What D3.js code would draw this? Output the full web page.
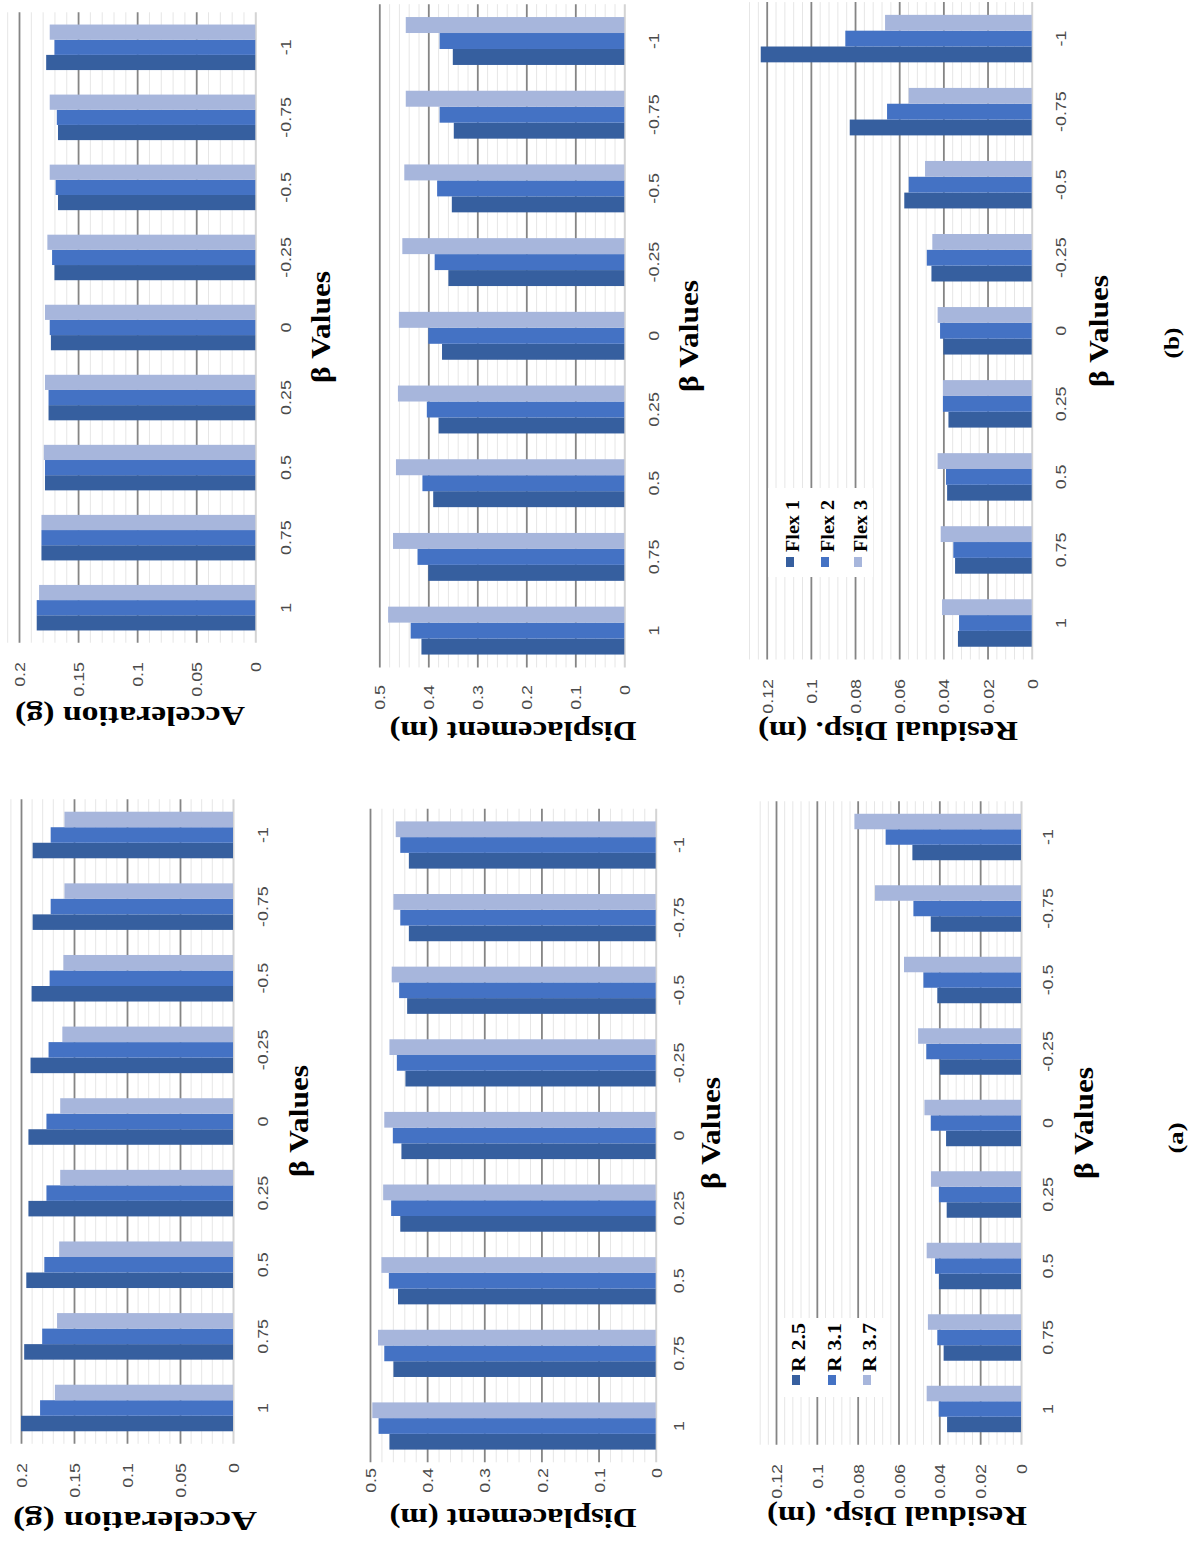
<!DOCTYPE html>
<html><head><meta charset="utf-8">
<script src="https://cdn.jsdelivr.net/npm/d3@7"></script>
<style>body{margin:0;background:#fff} svg{display:block}</style>
</head><body>
<script>
// ---------- DATA ----------
const categories = ["1","0.75","0.5","0.25","0","-0.25","-0.5","-0.75","-1"];
const seriesA = ["R 2.5","R 3.1","R 3.7"];
const seriesB = ["Flex 1","Flex 2","Flex 3"];

const accA_R25 = [0.200,0.197,0.195,0.193,0.193,0.191,0.190,0.189,0.189];
const accA_R31 = [0.182,0.180,0.178,0.176,0.176,0.174,0.173,0.172,0.172];
const accA_R37 = [0.168,0.166,0.164,0.163,0.163,0.161,0.160,0.159,0.159];

const dispA_R25 = [0.466,0.459,0.451,0.447,0.445,0.438,0.435,0.432,0.432];
const dispA_R31 = [0.485,0.475,0.467,0.463,0.460,0.453,0.449,0.447,0.447];
const dispA_R37 = [0.496,0.486,0.480,0.477,0.475,0.466,0.462,0.459,0.455];

const resA_R25 = [0.0362,0.0379,0.0402,0.0364,0.0367,0.0397,0.0410,0.0442,0.0532];
const resA_R31 = [0.0403,0.0410,0.0421,0.0402,0.0442,0.0464,0.0478,0.0527,0.0663];
const resA_R37 = [0.0462,0.0456,0.0462,0.0441,0.0473,0.0504,0.0573,0.0715,0.0816];

const accB_F1 = [0.185,0.181,0.178,0.175,0.173,0.170,0.167,0.167,0.177];
const accB_F2 = [0.185,0.181,0.178,0.175,0.174,0.172,0.169,0.168,0.170];
const accB_F3 = [0.183,0.181,0.179,0.178,0.178,0.176,0.174,0.174,0.174];

const dispB_F1 = [0.414,0.400,0.390,0.379,0.372,0.359,0.352,0.348,0.350];
const dispB_F2 = [0.436,0.422,0.412,0.403,0.400,0.387,0.382,0.377,0.377];
const dispB_F3 = [0.482,0.472,0.466,0.462,0.460,0.453,0.449,0.446,0.446];

const resB_F1 = [0.0334,0.0347,0.0383,0.0377,0.0400,0.0454,0.0577,0.0824,0.1227];
const resB_F2 = [0.0329,0.0355,0.0388,0.0402,0.0415,0.0475,0.0557,0.0655,0.0844];
const resB_F3 = [0.0406,0.0412,0.0426,0.0402,0.0426,0.0450,0.0483,0.0557,0.0664];

const accTicks = [0,0.05,0.1,0.15,0.2];
const dispTicks = [0,0.1,0.2,0.3,0.4,0.5];
const resTicks = [0,0.02,0.04,0.06,0.08,0.1,0.12];

// ---------- LAYOUT ----------
const W = 1192, H = 1554;
const colors = ["#365f9f","#4472c4","#a7b6dc"];
const sansFont = "'Liberation Sans', Arial, sans-serif";
const serifFont = "'Liberation Serif', 'Times New Roman', serif";

const svg = d3.select("body").append("svg").attr("width", W).attr("height", H);
svg.append("rect").attr("width", W).attr("height", H).attr("fill", "#fff");
// whole figure is rotated 90 degrees counter-clockwise
const root = svg.append("g").attr("transform", `translate(0,${H}) rotate(-90)`);
const toX = iy => H - iy;   // picture y -> unrotated x

function fitText(sel, factor, fixed) {
  sel.each(function () {
    const w = fixed || this.getComputedTextLength() * factor;
    d3.select(this).attr("textLength", w).attr("lengthAdjust", "spacingAndGlyphs");
  });
}

function panel(p) {
  const g = root.append("g");
  const step = (p.c1 - p.cm1) / (categories.length - 1);
  const x0 = d3.scaleBand().domain(categories)
    .range([toX(p.c1 + step / 2), toX(p.cm1 - step / 2)])
    .paddingInner(0.35).paddingOuter(0.175);
  const x1 = d3.scaleBand().domain(p.series).range([0, x0.bandwidth()]);
  const unit = (p.zero - p.tickX) / p.ticks[p.ticks.length - 1];
  const y = d3.scaleLinear().domain([0, p.max]).range([p.zero, p.zero - p.max * unit]);
  const [xa, xb] = x0.range();

  const nMinor = Math.round(p.max / p.minor);
  const minors = d3.range(1, nMinor + 1).map(i => +(i * p.minor).toFixed(6))
    .filter(v => !p.ticks.some(t => Math.abs(t - v) < 1e-9));
  g.append("g").attr("transform", `translate(${xa},0)`)
    .call(d3.axisLeft(y).tickValues(minors).tickSize(-(xb - xa)).tickFormat(""))
    .call(s => { s.select(".domain").remove(); s.selectAll("line").attr("stroke", "#e6e6e6").attr("stroke-width", 1); });
  g.append("g").attr("transform", `translate(${xa},0)`)
    .call(d3.axisLeft(y).tickValues(p.ticks.slice(1)).tickSize(-(xb - xa)).tickFormat(""))
    .call(s => { s.select(".domain").remove(); s.selectAll("line").attr("stroke", "#858585").attr("stroke-width", 1.8); });
  g.append("g").attr("transform", `translate(${xa},0)`)
    .call(d3.axisLeft(y).tickValues([0]).tickSize(-(xb - xa)).tickFormat(""))
    .call(s => { s.select(".domain").remove(); s.selectAll("line").attr("stroke", "#d4d4d4").attr("stroke-width", 2); });

  // bars
  g.append("g").selectAll("g").data(categories).join("g")
    .attr("transform", c => `translate(${x0(c)},0)`)
    .selectAll("rect")
    .data((c, i) => p.series.map((s, j) => ({ s, j, v: p.values[j][i] })))
    .join("rect")
    .attr("x", d => x1(d.s)).attr("width", x1.bandwidth())
    .attr("y", d => y(d.v)).attr("height", d => y(0) - y(d.v))
    .attr("fill", d => colors[d.j]);

  // value axis labels
  g.append("g").attr("transform", `translate(${toX(p.vLabEnd)},0)`)
    .call(d3.axisLeft(y).tickValues(p.ticks).tickSize(0).tickPadding(0).tickFormat(d => String(d)))
    .call(s => {
      s.select(".domain").remove();
      s.attr("font-family", sansFont).attr("font-size", 15.5).attr("color", "#4a4a4a");
      s.selectAll("text").attr("x", 0).attr("dy", "0.36em");
      fitText(s.selectAll("text"), 1.15);
    });

  // category axis labels
  g.append("g").attr("transform", `translate(0,${p.catLabX})`)
    .call(d3.axisBottom(x0).tickSize(0).tickPadding(0))
    .call(s => {
      s.select(".domain").remove();
      s.attr("font-family", sansFont).attr("font-size", 15.5).attr("color", "#4a4a4a");
      s.selectAll("text").attr("y", 0).attr("dy", "0.36em");
      fitText(s.selectAll("text"), 1.15);
    });

  // x title
  g.append("text").attr("x", toX(p.betaY)).attr("y", p.betaX + 9)
    .attr("text-anchor", "middle").attr("font-family", serifFont)
    .attr("font-weight", "bold").attr("font-size", 27).attr("fill", "#000")
    .text("β Values").call(s => fitText(s, 1, 112));

  // y title
  g.append("text")
    .attr("transform", `translate(${toX(p.titleY)},${p.titleX}) rotate(-90)`)
    .attr("y", 9).attr("text-anchor", "middle").attr("font-family", serifFont)
    .attr("font-weight", "bold").attr("font-size", 27).attr("fill", "#000")
    .text(p.title).call(s => fitText(s, 1, p.titleLen));

  // legend
  if (p.legend) {
    const L = p.legend;
    const lg = g.append("g");
    lg.append("rect").attr("x", L.box[0]).attr("y", L.box[1])
      .attr("width", L.box[2]).attr("height", L.box[3]).attr("fill", "#fff");
    p.series.forEach((s, j) => {
      lg.append("rect").attr("x", L.sqX).attr("y", L.rows[j] - 4)
        .attr("width", 10).attr("height", 8).attr("fill", colors[j]);
      lg.append("text").attr("x", L.txtX).attr("y", L.rows[j] + 9)
        .attr("font-family", serifFont).attr("font-weight", "bold")
        .attr("font-size", 18).attr("fill", "#000").text(s)
        .call(t => fitText(t, 1, L.txtLen));
    });
  }
}

const panels = [
  { series: seriesA, values: [accA_R25, accA_R31, accA_R37], ticks: accTicks, max: 0.21, minor: 0.01,
    c1: 1408, cm1: 835, zero: 233, tickX: 21, catLabX: 262, vLabEnd: 1463,
    betaX: 299, betaY: 1121, titleX: 135, titleY: 1521, titleLen: 244, title: "Acceleration  (g)" },
  { series: seriesA, values: [dispA_R25, dispA_R31, dispA_R37], ticks: dispTicks, max: 0.5, minor: 0.02,
    c1: 1426, cm1: 845, zero: 655.7, tickX: 370, catLabX: 678, vLabEnd: 1468,
    betaX: 711, betaY: 1133, titleX: 513, titleY: 1518, titleLen: 247, title: "Displacement  (m)" },
  { series: seriesA, values: [resA_R25, resA_R31, resA_R37], ticks: resTicks, max: 0.128, minor: 0.004,
    c1: 1409, cm1: 837, zero: 1021, tickX: 776, catLabX: 1047, vLabEnd: 1464,
    betaX: 1084, betaY: 1123, titleX: 897, titleY: 1516, titleLen: 260, title: "Residual  Disp.  (m)",
    legend: { box: [157, 780, 79, 105], sqX: 169, rows: [796, 832, 867], txtX: 182, txtLen: 49 } },
  { series: seriesB, values: [accB_F1, accB_F2, accB_F3], ticks: accTicks, max: 0.21, minor: 0.01,
    c1: 607.7, cm1: 47.3, zero: 255.3, tickX: 19, catLabX: 285, vLabEnd: 662,
    betaX: 321, betaY: 327, titleX: 130, titleY: 716, titleLen: 230, title: "Acceleration  (g)" },
  { series: seriesB, values: [dispB_F1, dispB_F2, dispB_F3], ticks: dispTicks, max: 0.5, minor: 0.02,
    c1: 630.6, cm1: 41, zero: 624.3, tickX: 379.3, catLabX: 653, vLabEnd: 685,
    betaX: 689, betaY: 336, titleX: 513, titleY: 731, titleLen: 247, title: "Displacement  (m)" },
  { series: seriesB, values: [resB_F1, resB_F2, resB_F3], ticks: resTicks, max: 0.128, minor: 0.004,
    c1: 623, cm1: 38.6, zero: 1031.7, tickX: 766.7, catLabX: 1060, vLabEnd: 679,
    betaX: 1099, betaY: 331, titleX: 888, titleY: 731, titleLen: 260, title: "Residual  Disp.  (m)",
    legend: { box: [977, 768, 89, 105], sqX: 987, rows: [790, 825, 858], txtX: 1002, txtLen: 52 } }
];
panels.forEach(panel);

// sub-figure captions
[["(a)", 1138, 1183], ["(b)", 343, 1179]].forEach(([t, iy, by]) => {
  root.append("text").attr("x", toX(iy)).attr("y", by).attr("text-anchor", "middle")
    .attr("font-family", serifFont).attr("font-weight", "bold").attr("font-size", 22)
    .attr("fill", "#000").text(t).call(s => fitText(s, 1, 31));
});
</script>
</body></html>
